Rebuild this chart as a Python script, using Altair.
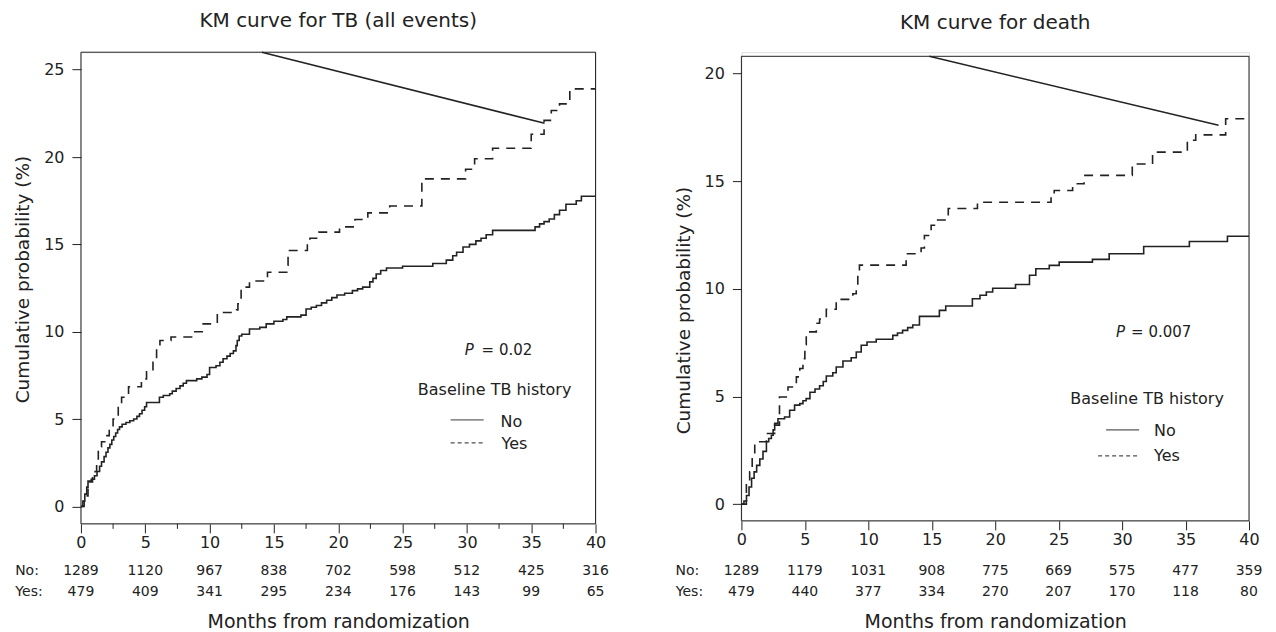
import altair as alt
import pandas as pd

FONT = "DejaVu Sans"
INK = "#222222"

# ---------------- data ----------------
month_ticks = [0, 5, 10, 15, 20, 25, 30, 35, 40]
minor_ticks = [2.5, 7.5, 12.5, 17.5, 22.5, 27.5, 32.5, 37.5]
risk_times = [0, 5, 10, 15, 20, 25, 30, 35, 40]

# Panel 1: KM curve for TB (all events)  (month, cumulative %)
tb_no = [(0, 0), (0.15, 0.3), (0.3, 0.7), (0.45, 1.1), (0.55, 1.45), (0.8, 1.55), (1.05, 1.75),
         (1.25, 2.0), (1.45, 2.3), (1.6, 2.55), (1.8, 2.85), (1.95, 3.1), (2.1, 3.35), (2.25, 3.55),
         (2.4, 3.8), (2.55, 4.0), (2.7, 4.2), (2.85, 4.4), (3.0, 4.55), (3.2, 4.7), (3.5, 4.8),
         (3.8, 4.9), (4.1, 5.0), (4.35, 5.15), (4.55, 5.3), (4.75, 5.5), (4.95, 5.7), (5.1, 5.95),
         (6.1, 6.25), (6.4, 6.35), (6.9, 6.45), (7.1, 6.6), (7.4, 6.75), (7.7, 6.9), (7.95, 7.05),
         (8.2, 7.2), (9.0, 7.3), (9.4, 7.4), (9.8, 7.55), (10.0, 7.95), (10.5, 8.05), (10.8, 8.25),
         (11.05, 8.45), (11.35, 8.6), (11.6, 8.75), (11.85, 8.9), (12.05, 9.2), (12.15, 9.5),
         (12.3, 9.75), (12.5, 9.85), (13.1, 10.15), (13.9, 10.25), (14.4, 10.45), (15.0, 10.6),
         (15.7, 10.7), (16.0, 10.85), (17.1, 10.95), (17.5, 11.3), (17.9, 11.4), (18.3, 11.5),
         (18.7, 11.65), (19.1, 11.8), (19.5, 11.95), (19.9, 12.1), (20.5, 12.2), (21.1, 12.35),
         (21.5, 12.45), (21.9, 12.55), (22.45, 12.85), (22.7, 13.05), (22.95, 13.3), (23.3, 13.5),
         (23.75, 13.65), (25.0, 13.75), (27.35, 13.9), (28.4, 14.1), (28.9, 14.35), (29.2, 14.55),
         (29.7, 14.85), (30.2, 15.0), (30.7, 15.2), (31.1, 15.35), (31.5, 15.55), (32.0, 15.8),
         (35.3, 16.0), (35.65, 16.17), (36.0, 16.3), (36.4, 16.45), (36.8, 16.7), (37.2, 16.95),
         (37.7, 17.3), (38.5, 17.5), (38.9, 17.75), (40.0, 17.75)]
tb_yes = [(0, 0), (0.25, 0.6), (0.55, 1.4), (0.9, 1.7), (1.1, 2.0), (1.22, 2.4), (1.35, 3.4),
          (1.6, 3.7), (1.86, 4.05), (2.2, 4.5), (2.5, 5.0), (2.9, 5.8), (3.16, 6.25), (3.7, 6.85),
          (4.7, 7.3), (5.1, 7.7), (5.6, 8.25), (5.88, 9.0), (6.14, 9.5), (7.0, 9.7), (8.6, 10.0),
          (9.5, 10.45), (10.6, 11.1), (12.1, 11.25), (12.2, 11.6), (12.45, 12.35), (12.6, 12.55),
          (13.1, 12.9), (14.5, 13.4), (16.0, 13.8), (16.1, 14.65), (17.6, 15.1), (17.8, 15.35),
          (18.5, 15.7), (20.1, 16.0), (21.3, 16.42), (22.3, 16.8), (24.0, 17.2), (26.5, 18.75),
          (29.9, 19.3), (30.6, 19.9), (32.0, 20.5), (35.0, 21.3), (36.0, 22.1), (36.56, 22.66),
          (37.2, 23.04), (38.0, 23.9), (40.0, 23.9)]
tb_stray = [(14.06, 26.0), (36.04, 21.93)]
tb_risk_no = [1289, 1120, 967, 838, 702, 598, 512, 425, 316]
tb_risk_yes = [479, 409, 341, 295, 234, 176, 143, 99, 65]

# Panel 2: KM curve for death
d_no = [(0, 0), (0.2, 0.15), (0.4, 0.4), (0.6, 0.8), (0.8, 1.2), (1.0, 1.5), (1.2, 1.8), (1.45, 2.1),
        (1.7, 2.45), (1.97, 2.9), (2.15, 3.05), (2.36, 3.2), (2.5, 3.45), (2.62, 3.75), (2.88, 3.97),
        (3.4, 4.05), (3.8, 4.36), (4.19, 4.6), (4.6, 4.67), (4.85, 4.8), (5.1, 4.9), (5.4, 5.2),
        (5.8, 5.35), (6.16, 5.5), (6.45, 5.7), (6.69, 5.95), (7.2, 6.1), (7.47, 6.37), (8.0, 6.65),
        (8.65, 6.8), (9.05, 7.07), (9.44, 7.38), (9.9, 7.53), (10.62, 7.66), (11.93, 7.84),
        (12.3, 7.95), (12.7, 8.07), (13.1, 8.2), (13.5, 8.32), (14.03, 8.72), (15.6, 9.0),
        (16.1, 9.2), (18.2, 9.54), (18.8, 9.7), (19.3, 9.85), (19.8, 10.03), (21.6, 10.2),
        (22.7, 10.63), (23.2, 10.93), (24.26, 11.09), (25.04, 11.24), (27.66, 11.37),
        (28.98, 11.63), (31.7, 11.97), (35.3, 12.2), (38.3, 12.44), (40.0, 12.44)]
d_yes = [(0, 0), (0.39, 0.96), (0.65, 1.5), (0.85, 2.2), (1.05, 2.9), (1.97, 3.28), (2.62, 3.67),
         (3.0, 4.98), (3.67, 5.44), (4.33, 5.91), (4.6, 6.3), (4.85, 6.76), (5.0, 7.4), (5.11, 8.0),
         (5.9, 8.4), (6.16, 8.6), (6.69, 9.05), (7.47, 9.51), (8.78, 9.77), (9.05, 10.0),
         (9.17, 10.8), (9.3, 11.1), (12.98, 11.63), (14.16, 11.9), (14.42, 12.48), (14.95, 12.95),
         (15.34, 13.2), (16.3, 13.73), (18.6, 14.02), (24.4, 14.4), (24.65, 14.57), (26.1, 14.88),
         (27.0, 15.27), (30.8, 15.8), (32.4, 16.35), (35.14, 16.9), (35.8, 17.15), (38.16, 17.9),
         (40.0, 17.9)]
d_stray = [(14.8, 20.8), (37.6, 17.6)]
d_risk_no = [1289, 1179, 1031, 908, 775, 669, 575, 477, 359]
d_risk_yes = [479, 440, 377, 334, 270, 207, 170, 118, 80]

ONE = pd.DataFrame({"k": [0]})


def txt(s, x, y, size, align="left", style="normal"):
    return alt.Chart(ONE).mark_text(
        text=s, align=align, baseline="middle", fontSize=size, font=FONT,
        fontStyle=style, color=INK
    ).encode(x=alt.value(x), y=alt.value(y))


def seg(x1, x2, y, dash):
    return alt.Chart(ONE).mark_rule(color=INK, strokeWidth=1, strokeDash=dash).encode(
        x=alt.value(x1), x2=alt.value(x2), y=alt.value(y))


def panel(title, no_pts, yes_pts, stray, r_no, r_yes, w, h, ydom, yvals, frame_top,
          minor, lay):
    xs = alt.Scale(domain=[0, 40], nice=False, zero=False)
    ys = alt.Scale(domain=ydom, nice=False, zero=False)
    xaxis = alt.Axis(values=month_ticks, title="Months from randomization", grid=False,
                     domain=False, tickSize=9, tickColor=INK, labelColor=INK, labelFont=FONT,
                     labelFontSize=16, labelPadding=2, labelFlush=False, titleFont=FONT,
                     titleFontSize=19, titleFontWeight="normal", titleColor=INK,
                     titleY=lay["xtitle_y"], titleBaseline="middle")
    yaxis = alt.Axis(values=yvals, title="Cumulative probability (%)", grid=False,
                     domain=False, tickSize=9, tickColor=INK, labelColor=INK, labelFont=FONT,
                     labelFontSize=16, labelPadding=8, labelFlush=False, titleFont=FONT,
                     titleFontSize=18.5, titleFontWeight="normal", titleColor=INK,
                     titleX=-58, titleY=lay["ytitle_y"], titleAngle=270,
                     titleBaseline="middle", titleAlign="center")

    def X(f):
        return alt.X(f, scale=xs, axis=xaxis)

    def Y(f):
        return alt.Y(f, scale=ys, axis=yaxis)

    rows = [{"t": t, "p": p, "g": "No"} for t, p in no_pts] + \
           [{"t": t, "p": p, "g": "Yes"} for t, p in yes_pts]
    cdf = pd.DataFrame(rows)
    curves = alt.Chart(cdf).mark_line(interpolate="step-after", strokeWidth=1.6, color=INK).encode(
        x=X("t:Q"), y=Y("p:Q"),
        strokeDash=alt.StrokeDash("g:N", scale=alt.Scale(domain=["No", "Yes"],
                                                         range=[[1, 0], [9, 7]]), legend=None))
    sdf = pd.DataFrame({"t": [a for a, b in stray], "p": [b for a, b in stray]})
    stray_line = alt.Chart(sdf).mark_line(color=INK, strokeWidth=1.5).encode(x=X("t:Q"), y=Y("p:Q"))

    fdf = pd.DataFrame({"x0": [0], "x1": [40], "y0": [ydom[0]], "y1": [frame_top]})
    frame = alt.Chart(fdf).mark_rect(fillOpacity=0, stroke=INK, strokeWidth=1).encode(
        x=X("x0:Q"), x2="x1:Q", y=Y("y0:Q"), y2="y1:Q")

    rdf = pd.DataFrame({"t": risk_times, "no": r_no, "yes": r_yes})
    risk_no = alt.Chart(rdf).mark_text(fontSize=14, font=FONT, color=INK, baseline="middle").encode(
        x=X("t:Q"), y=alt.value(lay["risk_y"][0]), text="no:N")
    risk_yes = alt.Chart(rdf).mark_text(fontSize=14, font=FONT, color=INK, baseline="middle").encode(
        x=X("t:Q"), y=alt.value(lay["risk_y"][1]), text="yes:N")

    layers = [frame, curves, stray_line, risk_no, risk_yes,
              txt("No:", -54, lay["risk_y"][0], 14, "center"),
              txt("Yes:", -52, lay["risk_y"][1], 14, "center"),
              txt(title, lay["title"][0], lay["title"][1], 20, "center"),
              txt("P", lay["p"][0], lay["p"][2], 15, "left", "italic"),
              txt(lay["ptext"], lay["p"][1], lay["p"][2], 15, "left"),
              txt("Baseline TB history", lay["leg_title"][0], lay["leg_title"][1], 16, "center"),
              seg(lay["solid"][0], lay["solid"][1], lay["solid"][2], [1, 0]),
              seg(lay["dashed"][0], lay["dashed"][1], lay["dashed"][2], [4, 3]),
              txt("No", lay["no"][0], lay["no"][1], 16, "left"),
              txt("Yes", lay["yes"][0], lay["yes"][1], 16, "left")]
    if minor:
        mdf = pd.DataFrame({"t": minor_ticks})
        layers.append(alt.Chart(mdf).mark_rule(color=INK, strokeWidth=1).encode(
            x=X("t:Q"), y=alt.value(h), y2=alt.value(h + 5)))
    return alt.layer(*layers).properties(width=w, height=h)


left = panel("KM curve for TB (all events)", tb_no, tb_yes, tb_stray, tb_risk_no, tb_risk_yes,
             515, 472, [-1, 26], [0, 5, 10, 15, 20, 25], 26, True,
             {"xtitle_y": 98, "ytitle_y": 227, "risk_y": (519, 540), "title": (257.5, -31),
              "p": (384, 401, 298), "ptext": "= 0.02", "leg_title": (414, 338),
              "solid": (370, 403, 368), "dashed": (370, 405, 391), "no": (420, 370),
              "yes": (421, 392)})
right = panel("KM curve for death", d_no, d_yes, d_stray, d_risk_no, d_risk_yes,
              508, 469, [-0.775, 20.99], [0, 5, 10, 15, 20], 20.8, False,
              {"xtitle_y": 101, "ytitle_y": 258, "risk_y": (519, 540), "title": (254, -29),
               "p": (375, 390, 280), "ptext": "= 0.007", "leg_title": (406, 347),
               "solid": (365, 398, 378), "dashed": (357, 396, 404), "no": (413, 379),
               "yes": (413, 404)})

chart = alt.hconcat(left, right, spacing=146, bounds="flush").properties(
    padding={"left": 5, "top": 2, "right": 5, "bottom": 0}
).configure_view(strokeWidth=0, stroke="transparent").configure(background="white")

chart.save("out.html", embed_options={"renderer": "svg", "actions": False})
